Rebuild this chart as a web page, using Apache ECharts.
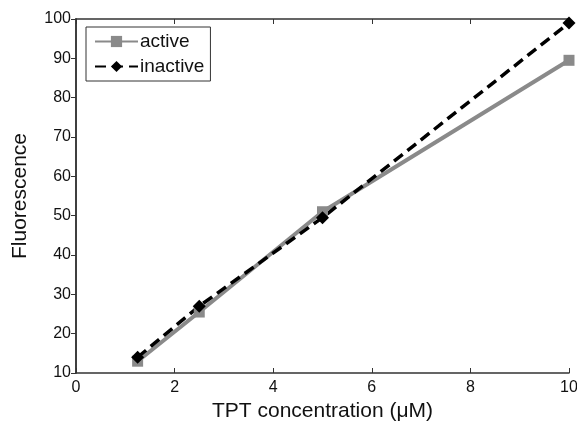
<!DOCTYPE html>
<html><head><meta charset="utf-8">
<script src="https://cdn.jsdelivr.net/npm/echarts@6/dist/echarts.min.js"></script>
<style>html,body{margin:0;padding:0;background:#fff}#c{width:577px;height:421px}</style>
</head><body><div id="c"></div>
<script>
const concentrations = [1.25, 2.5, 5, 10];
const activeValues = [13, 25.5, 51, 89.5];
const inactiveValues = [14, 27, 49.5, 99];
const xTicks = [0, 2, 4, 6, 8, 10];
const yTicks = [10, 20, 30, 40, 50, 60, 70, 80, 90, 100];

const font = 'Liberation Sans, Arial, sans-serif';
const lineCol = '#333';
function ax(extra, inside) {
  return Object.assign({
    axisLine: {lineStyle: {color: lineCol, width: 1.5}},
    axisTick: {inside: inside, length: 5, lineStyle: {color: lineCol, width: 1}},
    splitLine: {show: false}
  }, extra);
}
const chart = echarts.init(document.getElementById('c'));
chart.setOption({
  animation: false,
  backgroundColor: '#fff',
  grid: {left: 76, right: 8, top: 19, bottom: 48, containLabel: false, outerBoundsMode: 'none'},
  legend: {
    left: 86, top: 27, orient: 'vertical',
    backgroundColor: '#fff', borderColor: lineCol, borderWidth: 1,
    padding: [5, 6, 5, 8], itemGap: 6, itemWidth: 43, itemHeight: 14,
    textStyle: {fontFamily: font, fontSize: 19, color: '#111', padding: [0, 0, 0, -3]},
    data: ['active', 'inactive']
  },
  xAxis: [
    ax({type: 'value', min: 0, max: 10, interval: 2, position: 'bottom',
      name: 'TPT concentration (\u03bcM)', nameLocation: 'middle', nameGap: 27,
      nameTextStyle: {fontFamily: font, fontSize: 21, color: '#111'},
      axisLabel: {fontFamily: font, fontSize: 16, color: '#111', margin: 7,
        formatter: v => xTicks.includes(v) ? String(v) : ''}}, true),
    ax({type: 'value', min: 0, max: 10, interval: 2, position: 'top',
      axisLabel: {show: false}}, true)
  ],
  yAxis: [
    ax({type: 'value', min: 10, max: 100, interval: 10, position: 'left',
      name: 'Fluorescence', nameLocation: 'middle', nameGap: 45,
      nameTextStyle: {fontFamily: font, fontSize: 21, color: '#111'},
      axisLabel: {fontFamily: font, fontSize: 16, color: '#111', margin: 5,
        formatter: v => yTicks.includes(v) ? String(v) : ''}}, false),
    ax({type: 'value', min: 10, max: 100, interval: 10, position: 'right',
      axisLabel: {show: false}}, true)
  ],
  series: [
    {name: 'active', type: 'line', xAxisIndex: 0, yAxisIndex: 0,
      data: concentrations.map((x, i) => [x, activeValues[i]]),
      symbol: 'rect', symbolSize: 11,
      lineStyle: {color: '#8a8a8a', width: 4},
      itemStyle: {color: '#8a8a8a'}},
    {name: 'inactive', type: 'line', xAxisIndex: 0, yAxisIndex: 0,
      data: concentrations.map((x, i) => [x, inactiveValues[i]]),
      symbol: 'diamond', symbolSize: 13,
      lineStyle: {color: '#000', width: 3.5, type: [11, 6]},
      itemStyle: {color: '#000'}}
  ]
});
</script></body></html>
